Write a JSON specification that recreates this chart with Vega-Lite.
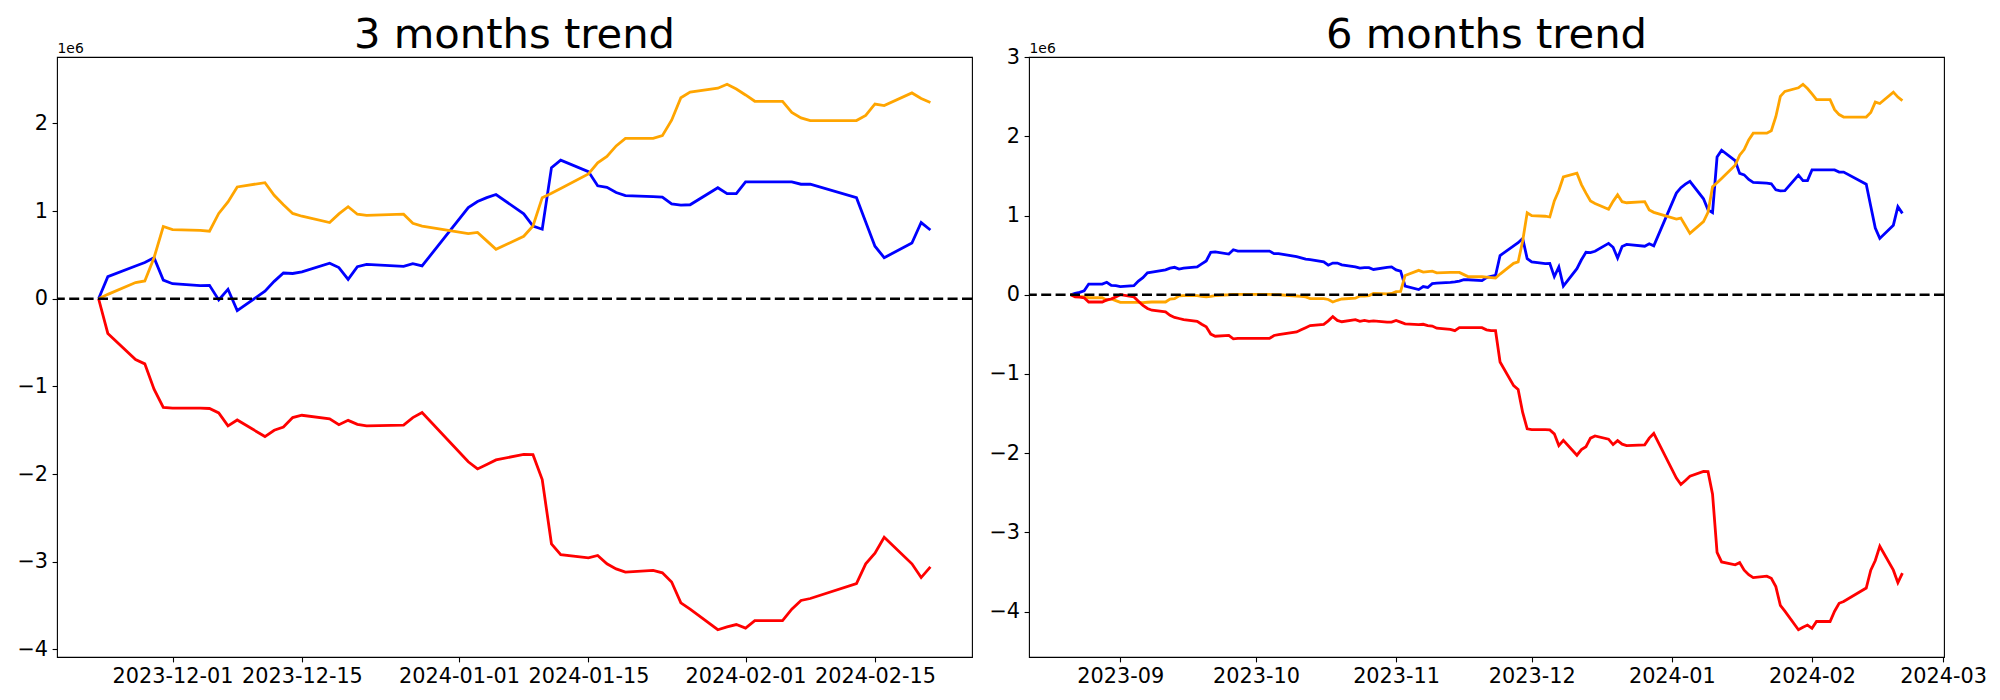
{
"$schema": "https://vega.github.io/schema/vega-lite/v6.json",
"background": "white",
"padding": {"left": 16, "top": 14, "right": 5, "bottom": 5},
"bounds": "flush",
"spacing": 57,
"config": {
  "font": "DejaVu Sans",
  "view": {"stroke": "black", "strokeWidth": 1.1},
  "axis": {"domain": false, "grid": false, "ticks": true, "tickColor": "black", "tickWidth": 1.1, "tickSize": 4.9, "labelFont": "DejaVu Sans", "labelFontSize": 20.8, "labelColor": "black", "labelPadding": 4.5, "labelFlush": false, "titleFont": "DejaVu Sans", "titleFontWeight": "normal", "titleColor": "black"},
  "title": {"font": "DejaVu Sans", "fontSize": 41.7, "fontWeight": "normal", "color": "black", "anchor": "middle", "frame": "group"}
},
"datasets": {
"m3": [
{"date":"2023-11-23","series":"blue","value":0},{"date":"2023-11-23","series":"orange","value":0},{"date":"2023-11-23","series":"red","value":0},
{"date":"2023-11-24","series":"blue","value":252000},{"date":"2023-11-24","series":"orange","value":50000},{"date":"2023-11-24","series":"red","value":-396000},
{"date":"2023-11-27","series":"blue","value":374000},{"date":"2023-11-27","series":"orange","value":185000},{"date":"2023-11-27","series":"red","value":-694000},
{"date":"2023-11-28","series":"blue","value":414000},{"date":"2023-11-28","series":"orange","value":203000},{"date":"2023-11-28","series":"red","value":-743000},
{"date":"2023-11-29","series":"blue","value":468000},{"date":"2023-11-29","series":"orange","value":468000},{"date":"2023-11-29","series":"red","value":-1032000},
{"date":"2023-11-30","series":"blue","value":212000},{"date":"2023-11-30","series":"orange","value":824000},{"date":"2023-11-30","series":"red","value":-1239000},
{"date":"2023-12-01","series":"blue","value":171000},{"date":"2023-12-01","series":"orange","value":788000},{"date":"2023-12-01","series":"red","value":-1248000},
{"date":"2023-12-04","series":"blue","value":149000},{"date":"2023-12-04","series":"orange","value":780000},{"date":"2023-12-04","series":"red","value":-1248000},
{"date":"2023-12-05","series":"blue","value":153000},{"date":"2023-12-05","series":"orange","value":770000},{"date":"2023-12-05","series":"red","value":-1252000},
{"date":"2023-12-06","series":"blue","value":-14000},{"date":"2023-12-06","series":"orange","value":973000},{"date":"2023-12-06","series":"red","value":-1302000},
{"date":"2023-12-07","series":"blue","value":108000},{"date":"2023-12-07","series":"orange","value":1104000},{"date":"2023-12-07","series":"red","value":-1450000},
{"date":"2023-12-08","series":"blue","value":-135000},{"date":"2023-12-08","series":"orange","value":1275000},{"date":"2023-12-08","series":"red","value":-1383000},
{"date":"2023-12-11","series":"blue","value":86000},{"date":"2023-12-11","series":"orange","value":1324000},{"date":"2023-12-11","series":"red","value":-1572000},
{"date":"2023-12-12","series":"blue","value":198000},{"date":"2023-12-12","series":"orange","value":1180000},{"date":"2023-12-12","series":"red","value":-1500000},
{"date":"2023-12-13","series":"blue","value":293000},{"date":"2023-12-13","series":"orange","value":1072000},{"date":"2023-12-13","series":"red","value":-1464000},
{"date":"2023-12-14","series":"blue","value":288000},{"date":"2023-12-14","series":"orange","value":973000},{"date":"2023-12-14","series":"red","value":-1356000},
{"date":"2023-12-15","series":"blue","value":306000},{"date":"2023-12-15","series":"orange","value":941000},{"date":"2023-12-15","series":"red","value":-1329000},
{"date":"2023-12-18","series":"blue","value":405000},{"date":"2023-12-18","series":"orange","value":869000},{"date":"2023-12-18","series":"red","value":-1369000},
{"date":"2023-12-19","series":"blue","value":356000},{"date":"2023-12-19","series":"orange","value":968000},{"date":"2023-12-19","series":"red","value":-1437000},
{"date":"2023-12-20","series":"blue","value":221000},{"date":"2023-12-20","series":"orange","value":1050000},{"date":"2023-12-20","series":"red","value":-1387000},
{"date":"2023-12-21","series":"blue","value":365000},{"date":"2023-12-21","series":"orange","value":964000},{"date":"2023-12-21","series":"red","value":-1432000},
{"date":"2023-12-22","series":"blue","value":392000},{"date":"2023-12-22","series":"orange","value":950000},{"date":"2023-12-22","series":"red","value":-1450000},
{"date":"2023-12-26","series":"blue","value":369000},{"date":"2023-12-26","series":"orange","value":964000},{"date":"2023-12-26","series":"red","value":-1441000},
{"date":"2023-12-27","series":"blue","value":400000},{"date":"2023-12-27","series":"orange","value":860000},{"date":"2023-12-27","series":"red","value":-1356000},
{"date":"2023-12-28","series":"blue","value":374000},{"date":"2023-12-28","series":"orange","value":829000},{"date":"2023-12-28","series":"red","value":-1297000},
{"date":"2024-01-02","series":"blue","value":1040000},{"date":"2024-01-02","series":"orange","value":743000},{"date":"2024-01-02","series":"red","value":-1860000},
{"date":"2024-01-03","series":"blue","value":1108000},{"date":"2024-01-03","series":"orange","value":757000},{"date":"2024-01-03","series":"red","value":-1941000},
{"date":"2024-01-04","series":"blue","value":1153000},{"date":"2024-01-04","series":"orange","value":660000},{"date":"2024-01-04","series":"red","value":-1890000},
{"date":"2024-01-05","series":"blue","value":1189000},{"date":"2024-01-05","series":"orange","value":563000},{"date":"2024-01-05","series":"red","value":-1838000},
{"date":"2024-01-08","series":"blue","value":968000},{"date":"2024-01-08","series":"orange","value":712000},{"date":"2024-01-08","series":"red","value":-1775000},
{"date":"2024-01-09","series":"blue","value":829000},{"date":"2024-01-09","series":"orange","value":829000},{"date":"2024-01-09","series":"red","value":-1779000},
{"date":"2024-01-10","series":"blue","value":793000},{"date":"2024-01-10","series":"orange","value":1153000},{"date":"2024-01-10","series":"red","value":-2063000},
{"date":"2024-01-11","series":"blue","value":1495000},{"date":"2024-01-11","series":"orange","value":1203000},{"date":"2024-01-11","series":"red","value":-2797000},
{"date":"2024-01-12","series":"blue","value":1581000},{"date":"2024-01-12","series":"orange","value":1257000},{"date":"2024-01-12","series":"red","value":-2919000},
{"date":"2024-01-15","series":"blue","value":1450000},{"date":"2024-01-15","series":"orange","value":1423000},{"date":"2024-01-15","series":"red","value":-2955000},
{"date":"2024-01-16","series":"blue","value":1288000},{"date":"2024-01-16","series":"orange","value":1550000},{"date":"2024-01-16","series":"red","value":-2928000},
{"date":"2024-01-17","series":"blue","value":1270000},{"date":"2024-01-17","series":"orange","value":1622000},{"date":"2024-01-17","series":"red","value":-3023000},
{"date":"2024-01-18","series":"blue","value":1212000},{"date":"2024-01-18","series":"orange","value":1743000},{"date":"2024-01-18","series":"red","value":-3081000},
{"date":"2024-01-19","series":"blue","value":1176000},{"date":"2024-01-19","series":"orange","value":1829000},{"date":"2024-01-19","series":"red","value":-3117000},
{"date":"2024-01-22","series":"blue","value":1165000},{"date":"2024-01-22","series":"orange","value":1829000},{"date":"2024-01-22","series":"red","value":-3099000},
{"date":"2024-01-23","series":"blue","value":1158000},{"date":"2024-01-23","series":"orange","value":1860000},{"date":"2024-01-23","series":"red","value":-3126000},
{"date":"2024-01-24","series":"blue","value":1081000},{"date":"2024-01-24","series":"orange","value":2036000},{"date":"2024-01-24","series":"red","value":-3230000},
{"date":"2024-01-25","series":"blue","value":1068000},{"date":"2024-01-25","series":"orange","value":2293000},{"date":"2024-01-25","series":"red","value":-3468000},
{"date":"2024-01-26","series":"blue","value":1072000},{"date":"2024-01-26","series":"orange","value":2356000},{"date":"2024-01-26","series":"red","value":-3541000},
{"date":"2024-01-29","series":"blue","value":1266000},{"date":"2024-01-29","series":"orange","value":2401000},{"date":"2024-01-29","series":"red","value":-3775000},
{"date":"2024-01-30","series":"blue","value":1198000},{"date":"2024-01-30","series":"orange","value":2446000},{"date":"2024-01-30","series":"red","value":-3743000},
{"date":"2024-01-31","series":"blue","value":1198000},{"date":"2024-01-31","series":"orange","value":2392000},{"date":"2024-01-31","series":"red","value":-3716000},
{"date":"2024-02-01","series":"blue","value":1333000},{"date":"2024-02-01","series":"orange","value":2324000},{"date":"2024-02-01","series":"red","value":-3757000},
{"date":"2024-02-02","series":"blue","value":1333000},{"date":"2024-02-02","series":"orange","value":2252000},{"date":"2024-02-02","series":"red","value":-3671000},
{"date":"2024-02-05","series":"blue","value":1333000},{"date":"2024-02-05","series":"orange","value":2252000},{"date":"2024-02-05","series":"red","value":-3671000},
{"date":"2024-02-06","series":"blue","value":1333000},{"date":"2024-02-06","series":"orange","value":2126000},{"date":"2024-02-06","series":"red","value":-3541000},
{"date":"2024-02-07","series":"blue","value":1306000},{"date":"2024-02-07","series":"orange","value":2063000},{"date":"2024-02-07","series":"red","value":-3441000},
{"date":"2024-02-08","series":"blue","value":1306000},{"date":"2024-02-08","series":"orange","value":2032000},{"date":"2024-02-08","series":"red","value":-3419000},
{"date":"2024-02-13","series":"blue","value":1153000},{"date":"2024-02-13","series":"orange","value":2032000},{"date":"2024-02-13","series":"red","value":-3248000},
{"date":"2024-02-14","series":"blue","value":874000},{"date":"2024-02-14","series":"orange","value":2090000},{"date":"2024-02-14","series":"red","value":-3023000},
{"date":"2024-02-15","series":"blue","value":599000},{"date":"2024-02-15","series":"orange","value":2221000},{"date":"2024-02-15","series":"red","value":-2901000},
{"date":"2024-02-16","series":"blue","value":468000},{"date":"2024-02-16","series":"orange","value":2203000},{"date":"2024-02-16","series":"red","value":-2721000},
{"date":"2024-02-19","series":"blue","value":635000},{"date":"2024-02-19","series":"orange","value":2347000},{"date":"2024-02-19","series":"red","value":-3023000},
{"date":"2024-02-20","series":"blue","value":869000},{"date":"2024-02-20","series":"orange","value":2284000},{"date":"2024-02-20","series":"red","value":-3180000},
{"date":"2024-02-21","series":"blue","value":784000},{"date":"2024-02-21","series":"orange","value":2239000},{"date":"2024-02-21","series":"red","value":-3059000}
],
"m6": [
{"date":"2023-08-21","series":"blue","value":0},{"date":"2023-08-21","series":"orange","value":0},{"date":"2023-08-21","series":"red","value":0},
{"date":"2023-08-22","series":"blue","value":16000},{"date":"2023-08-22","series":"orange","value":-10000},{"date":"2023-08-22","series":"red","value":-27000},
{"date":"2023-08-23","series":"blue","value":30000},{"date":"2023-08-23","series":"orange","value":-20000},{"date":"2023-08-23","series":"red","value":-30000},
{"date":"2023-08-24","series":"blue","value":49000},{"date":"2023-08-24","series":"orange","value":-27000},{"date":"2023-08-24","series":"red","value":-38000},
{"date":"2023-08-25","series":"blue","value":135000},{"date":"2023-08-25","series":"orange","value":-38000},{"date":"2023-08-25","series":"red","value":-92000},
{"date":"2023-08-28","series":"blue","value":135000},{"date":"2023-08-28","series":"orange","value":-38000},{"date":"2023-08-28","series":"red","value":-92000},
{"date":"2023-08-29","series":"blue","value":157000},{"date":"2023-08-29","series":"orange","value":-70000},{"date":"2023-08-29","series":"red","value":-65000},
{"date":"2023-08-30","series":"blue","value":119000},{"date":"2023-08-30","series":"orange","value":-54000},{"date":"2023-08-30","series":"red","value":-54000},
{"date":"2023-08-31","series":"blue","value":114000},{"date":"2023-08-31","series":"orange","value":-75000},{"date":"2023-08-31","series":"red","value":-27000},
{"date":"2023-09-01","series":"blue","value":103000},{"date":"2023-09-01","series":"orange","value":-97000},{"date":"2023-09-01","series":"red","value":0},
{"date":"2023-09-04","series":"blue","value":114000},{"date":"2023-09-04","series":"orange","value":-97000},{"date":"2023-09-04","series":"red","value":-27000},
{"date":"2023-09-05","series":"blue","value":173000},{"date":"2023-09-05","series":"orange","value":-97000},{"date":"2023-09-05","series":"red","value":-81000},
{"date":"2023-09-06","series":"blue","value":216000},{"date":"2023-09-06","series":"orange","value":-100000},{"date":"2023-09-06","series":"red","value":-135000},
{"date":"2023-09-07","series":"blue","value":276000},{"date":"2023-09-07","series":"orange","value":-95000},{"date":"2023-09-07","series":"red","value":-173000},
{"date":"2023-09-08","series":"blue","value":286000},{"date":"2023-09-08","series":"orange","value":-92000},{"date":"2023-09-08","series":"red","value":-195000},
{"date":"2023-09-11","series":"blue","value":314000},{"date":"2023-09-11","series":"orange","value":-92000},{"date":"2023-09-11","series":"red","value":-216000},
{"date":"2023-09-12","series":"blue","value":335000},{"date":"2023-09-12","series":"orange","value":-55000},{"date":"2023-09-12","series":"red","value":-259000},
{"date":"2023-09-13","series":"blue","value":346000},{"date":"2023-09-13","series":"orange","value":-50000},{"date":"2023-09-13","series":"red","value":-286000},
{"date":"2023-09-14","series":"blue","value":324000},{"date":"2023-09-14","series":"orange","value":-15000},{"date":"2023-09-14","series":"red","value":-300000},
{"date":"2023-09-15","series":"blue","value":335000},{"date":"2023-09-15","series":"orange","value":-10000},{"date":"2023-09-15","series":"red","value":-314000},
{"date":"2023-09-18","series":"blue","value":351000},{"date":"2023-09-18","series":"orange","value":-10000},{"date":"2023-09-18","series":"red","value":-335000},
{"date":"2023-09-19","series":"blue","value":389000},{"date":"2023-09-19","series":"orange","value":-20000},{"date":"2023-09-19","series":"red","value":-373000},
{"date":"2023-09-20","series":"blue","value":427000},{"date":"2023-09-20","series":"orange","value":-27000},{"date":"2023-09-20","series":"red","value":-405000},
{"date":"2023-09-21","series":"blue","value":535000},{"date":"2023-09-21","series":"orange","value":-20000},{"date":"2023-09-21","series":"red","value":-497000},
{"date":"2023-09-22","series":"blue","value":541000},{"date":"2023-09-22","series":"orange","value":-10000},{"date":"2023-09-22","series":"red","value":-524000},
{"date":"2023-09-25","series":"blue","value":514000},{"date":"2023-09-25","series":"orange","value":0},{"date":"2023-09-25","series":"red","value":-514000},
{"date":"2023-09-26","series":"blue","value":568000},{"date":"2023-09-26","series":"orange","value":5000},{"date":"2023-09-26","series":"red","value":-557000},
{"date":"2023-09-27","series":"blue","value":551000},{"date":"2023-09-27","series":"orange","value":5000},{"date":"2023-09-27","series":"red","value":-551000},
{"date":"2023-10-04","series":"blue","value":551000},{"date":"2023-10-04","series":"orange","value":5000},{"date":"2023-10-04","series":"red","value":-551000},
{"date":"2023-10-05","series":"blue","value":519000},{"date":"2023-10-05","series":"orange","value":0},{"date":"2023-10-05","series":"red","value":-514000},
{"date":"2023-10-06","series":"blue","value":519000},{"date":"2023-10-06","series":"orange","value":0},{"date":"2023-10-06","series":"red","value":-503000},
{"date":"2023-10-10","series":"blue","value":481000},{"date":"2023-10-10","series":"orange","value":-16000},{"date":"2023-10-10","series":"red","value":-470000},
{"date":"2023-10-11","series":"blue","value":465000},{"date":"2023-10-11","series":"orange","value":-20000},{"date":"2023-10-11","series":"red","value":-443000},
{"date":"2023-10-12","series":"blue","value":449000},{"date":"2023-10-12","series":"orange","value":-27000},{"date":"2023-10-12","series":"red","value":-416000},
{"date":"2023-10-13","series":"blue","value":443000},{"date":"2023-10-13","series":"orange","value":-49000},{"date":"2023-10-13","series":"red","value":-389000},
{"date":"2023-10-16","series":"blue","value":416000},{"date":"2023-10-16","series":"orange","value":-49000},{"date":"2023-10-16","series":"red","value":-373000},
{"date":"2023-10-17","series":"blue","value":373000},{"date":"2023-10-17","series":"orange","value":-60000},{"date":"2023-10-17","series":"red","value":-330000},
{"date":"2023-10-18","series":"blue","value":400000},{"date":"2023-10-18","series":"orange","value":-92000},{"date":"2023-10-18","series":"red","value":-276000},
{"date":"2023-10-19","series":"blue","value":400000},{"date":"2023-10-19","series":"orange","value":-70000},{"date":"2023-10-19","series":"red","value":-324000},
{"date":"2023-10-20","series":"blue","value":378000},{"date":"2023-10-20","series":"orange","value":-54000},{"date":"2023-10-20","series":"red","value":-341000},
{"date":"2023-10-23","series":"blue","value":351000},{"date":"2023-10-23","series":"orange","value":-43000},{"date":"2023-10-23","series":"red","value":-314000},
{"date":"2023-10-24","series":"blue","value":335000},{"date":"2023-10-24","series":"orange","value":-16000},{"date":"2023-10-24","series":"red","value":-335000},
{"date":"2023-10-25","series":"blue","value":341000},{"date":"2023-10-25","series":"orange","value":-16000},{"date":"2023-10-25","series":"red","value":-324000},
{"date":"2023-10-26","series":"blue","value":341000},{"date":"2023-10-26","series":"orange","value":-11000},{"date":"2023-10-26","series":"red","value":-335000},
{"date":"2023-10-27","series":"blue","value":319000},{"date":"2023-10-27","series":"orange","value":16000},{"date":"2023-10-27","series":"red","value":-330000},
{"date":"2023-10-30","series":"blue","value":346000},{"date":"2023-10-30","series":"orange","value":11000},{"date":"2023-10-30","series":"red","value":-346000},
{"date":"2023-10-31","series":"blue","value":351000},{"date":"2023-10-31","series":"orange","value":16000},{"date":"2023-10-31","series":"red","value":-346000},
{"date":"2023-11-01","series":"blue","value":314000},{"date":"2023-11-01","series":"orange","value":38000},{"date":"2023-11-01","series":"red","value":-324000},
{"date":"2023-11-02","series":"blue","value":297000},{"date":"2023-11-02","series":"orange","value":43000},{"date":"2023-11-02","series":"red","value":-346000},
{"date":"2023-11-03","series":"blue","value":108000},{"date":"2023-11-03","series":"orange","value":243000},{"date":"2023-11-03","series":"red","value":-368000},
{"date":"2023-11-06","series":"blue","value":65000},{"date":"2023-11-06","series":"orange","value":308000},{"date":"2023-11-06","series":"red","value":-378000},
{"date":"2023-11-07","series":"blue","value":103000},{"date":"2023-11-07","series":"orange","value":286000},{"date":"2023-11-07","series":"red","value":-373000},
{"date":"2023-11-08","series":"blue","value":92000},{"date":"2023-11-08","series":"orange","value":292000},{"date":"2023-11-08","series":"red","value":-389000},
{"date":"2023-11-09","series":"blue","value":141000},{"date":"2023-11-09","series":"orange","value":297000},{"date":"2023-11-09","series":"red","value":-395000},
{"date":"2023-11-10","series":"blue","value":146000},{"date":"2023-11-10","series":"orange","value":276000},{"date":"2023-11-10","series":"red","value":-422000},
{"date":"2023-11-13","series":"blue","value":157000},{"date":"2023-11-13","series":"orange","value":281000},{"date":"2023-11-13","series":"red","value":-438000},
{"date":"2023-11-14","series":"blue","value":162000},{"date":"2023-11-14","series":"orange","value":281000},{"date":"2023-11-14","series":"red","value":-454000},
{"date":"2023-11-15","series":"blue","value":173000},{"date":"2023-11-15","series":"orange","value":281000},{"date":"2023-11-15","series":"red","value":-416000},
{"date":"2023-11-16","series":"blue","value":189000},{"date":"2023-11-16","series":"orange","value":254000},{"date":"2023-11-16","series":"red","value":-416000},
{"date":"2023-11-17","series":"blue","value":189000},{"date":"2023-11-17","series":"orange","value":227000},{"date":"2023-11-17","series":"red","value":-416000},
{"date":"2023-11-20","series":"blue","value":178000},{"date":"2023-11-20","series":"orange","value":227000},{"date":"2023-11-20","series":"red","value":-416000},
{"date":"2023-11-21","series":"blue","value":216000},{"date":"2023-11-21","series":"orange","value":222000},{"date":"2023-11-21","series":"red","value":-443000},
{"date":"2023-11-22","series":"blue","value":232000},{"date":"2023-11-22","series":"orange","value":216000},{"date":"2023-11-22","series":"red","value":-454000},
{"date":"2023-11-23","series":"blue","value":243000},{"date":"2023-11-23","series":"orange","value":211000},{"date":"2023-11-23","series":"red","value":-454000},
{"date":"2023-11-24","series":"blue","value":495000},{"date":"2023-11-24","series":"orange","value":261000},{"date":"2023-11-24","series":"red","value":-850000},
{"date":"2023-11-27","series":"blue","value":617000},{"date":"2023-11-27","series":"orange","value":396000},{"date":"2023-11-27","series":"red","value":-1148000},
{"date":"2023-11-28","series":"blue","value":657000},{"date":"2023-11-28","series":"orange","value":414000},{"date":"2023-11-28","series":"red","value":-1197000},
{"date":"2023-11-29","series":"blue","value":711000},{"date":"2023-11-29","series":"orange","value":679000},{"date":"2023-11-29","series":"red","value":-1486000},
{"date":"2023-11-30","series":"blue","value":455000},{"date":"2023-11-30","series":"orange","value":1035000},{"date":"2023-11-30","series":"red","value":-1693000},
{"date":"2023-12-01","series":"blue","value":414000},{"date":"2023-12-01","series":"orange","value":999000},{"date":"2023-12-01","series":"red","value":-1702000},
{"date":"2023-12-04","series":"blue","value":392000},{"date":"2023-12-04","series":"orange","value":991000},{"date":"2023-12-04","series":"red","value":-1702000},
{"date":"2023-12-05","series":"blue","value":396000},{"date":"2023-12-05","series":"orange","value":981000},{"date":"2023-12-05","series":"red","value":-1706000},
{"date":"2023-12-06","series":"blue","value":229000},{"date":"2023-12-06","series":"orange","value":1184000},{"date":"2023-12-06","series":"red","value":-1756000},
{"date":"2023-12-07","series":"blue","value":351000},{"date":"2023-12-07","series":"orange","value":1315000},{"date":"2023-12-07","series":"red","value":-1904000},
{"date":"2023-12-08","series":"blue","value":108000},{"date":"2023-12-08","series":"orange","value":1486000},{"date":"2023-12-08","series":"red","value":-1837000},
{"date":"2023-12-11","series":"blue","value":329000},{"date":"2023-12-11","series":"orange","value":1535000},{"date":"2023-12-11","series":"red","value":-2026000},
{"date":"2023-12-12","series":"blue","value":441000},{"date":"2023-12-12","series":"orange","value":1391000},{"date":"2023-12-12","series":"red","value":-1954000},
{"date":"2023-12-13","series":"blue","value":536000},{"date":"2023-12-13","series":"orange","value":1283000},{"date":"2023-12-13","series":"red","value":-1918000},
{"date":"2023-12-14","series":"blue","value":531000},{"date":"2023-12-14","series":"orange","value":1184000},{"date":"2023-12-14","series":"red","value":-1810000},
{"date":"2023-12-15","series":"blue","value":549000},{"date":"2023-12-15","series":"orange","value":1152000},{"date":"2023-12-15","series":"red","value":-1783000},
{"date":"2023-12-18","series":"blue","value":648000},{"date":"2023-12-18","series":"orange","value":1080000},{"date":"2023-12-18","series":"red","value":-1823000},
{"date":"2023-12-19","series":"blue","value":599000},{"date":"2023-12-19","series":"orange","value":1179000},{"date":"2023-12-19","series":"red","value":-1891000},
{"date":"2023-12-20","series":"blue","value":464000},{"date":"2023-12-20","series":"orange","value":1261000},{"date":"2023-12-20","series":"red","value":-1841000},
{"date":"2023-12-21","series":"blue","value":608000},{"date":"2023-12-21","series":"orange","value":1175000},{"date":"2023-12-21","series":"red","value":-1886000},
{"date":"2023-12-22","series":"blue","value":635000},{"date":"2023-12-22","series":"orange","value":1161000},{"date":"2023-12-22","series":"red","value":-1904000},
{"date":"2023-12-26","series":"blue","value":612000},{"date":"2023-12-26","series":"orange","value":1175000},{"date":"2023-12-26","series":"red","value":-1895000},
{"date":"2023-12-27","series":"blue","value":643000},{"date":"2023-12-27","series":"orange","value":1071000},{"date":"2023-12-27","series":"red","value":-1810000},
{"date":"2023-12-28","series":"blue","value":617000},{"date":"2023-12-28","series":"orange","value":1040000},{"date":"2023-12-28","series":"red","value":-1751000},
{"date":"2024-01-02","series":"blue","value":1283000},{"date":"2024-01-02","series":"orange","value":954000},{"date":"2024-01-02","series":"red","value":-2314000},
{"date":"2024-01-03","series":"blue","value":1351000},{"date":"2024-01-03","series":"orange","value":968000},{"date":"2024-01-03","series":"red","value":-2395000},
{"date":"2024-01-04","series":"blue","value":1396000},{"date":"2024-01-04","series":"orange","value":871000},{"date":"2024-01-04","series":"red","value":-2344000},
{"date":"2024-01-05","series":"blue","value":1432000},{"date":"2024-01-05","series":"orange","value":774000},{"date":"2024-01-05","series":"red","value":-2292000},
{"date":"2024-01-08","series":"blue","value":1211000},{"date":"2024-01-08","series":"orange","value":923000},{"date":"2024-01-08","series":"red","value":-2229000},
{"date":"2024-01-09","series":"blue","value":1072000},{"date":"2024-01-09","series":"orange","value":1040000},{"date":"2024-01-09","series":"red","value":-2233000},
{"date":"2024-01-10","series":"blue","value":1036000},{"date":"2024-01-10","series":"orange","value":1364000},{"date":"2024-01-10","series":"red","value":-2517000},
{"date":"2024-01-11","series":"blue","value":1738000},{"date":"2024-01-11","series":"orange","value":1414000},{"date":"2024-01-11","series":"red","value":-3251000},
{"date":"2024-01-12","series":"blue","value":1824000},{"date":"2024-01-12","series":"orange","value":1468000},{"date":"2024-01-12","series":"red","value":-3373000},
{"date":"2024-01-15","series":"blue","value":1693000},{"date":"2024-01-15","series":"orange","value":1634000},{"date":"2024-01-15","series":"red","value":-3409000},
{"date":"2024-01-16","series":"blue","value":1531000},{"date":"2024-01-16","series":"orange","value":1761000},{"date":"2024-01-16","series":"red","value":-3382000},
{"date":"2024-01-17","series":"blue","value":1513000},{"date":"2024-01-17","series":"orange","value":1833000},{"date":"2024-01-17","series":"red","value":-3477000},
{"date":"2024-01-18","series":"blue","value":1455000},{"date":"2024-01-18","series":"orange","value":1954000},{"date":"2024-01-18","series":"red","value":-3535000},
{"date":"2024-01-19","series":"blue","value":1419000},{"date":"2024-01-19","series":"orange","value":2040000},{"date":"2024-01-19","series":"red","value":-3571000},
{"date":"2024-01-22","series":"blue","value":1408000},{"date":"2024-01-22","series":"orange","value":2040000},{"date":"2024-01-22","series":"red","value":-3553000},
{"date":"2024-01-23","series":"blue","value":1401000},{"date":"2024-01-23","series":"orange","value":2071000},{"date":"2024-01-23","series":"red","value":-3580000},
{"date":"2024-01-24","series":"blue","value":1324000},{"date":"2024-01-24","series":"orange","value":2247000},{"date":"2024-01-24","series":"red","value":-3684000},
{"date":"2024-01-25","series":"blue","value":1311000},{"date":"2024-01-25","series":"orange","value":2504000},{"date":"2024-01-25","series":"red","value":-3922000},
{"date":"2024-01-26","series":"blue","value":1315000},{"date":"2024-01-26","series":"orange","value":2567000},{"date":"2024-01-26","series":"red","value":-3995000},
{"date":"2024-01-29","series":"blue","value":1509000},{"date":"2024-01-29","series":"orange","value":2612000},{"date":"2024-01-29","series":"red","value":-4229000},
{"date":"2024-01-30","series":"blue","value":1441000},{"date":"2024-01-30","series":"orange","value":2657000},{"date":"2024-01-30","series":"red","value":-4197000},
{"date":"2024-01-31","series":"blue","value":1441000},{"date":"2024-01-31","series":"orange","value":2603000},{"date":"2024-01-31","series":"red","value":-4170000},
{"date":"2024-02-01","series":"blue","value":1576000},{"date":"2024-02-01","series":"orange","value":2535000},{"date":"2024-02-01","series":"red","value":-4211000},
{"date":"2024-02-02","series":"blue","value":1576000},{"date":"2024-02-02","series":"orange","value":2463000},{"date":"2024-02-02","series":"red","value":-4125000},
{"date":"2024-02-05","series":"blue","value":1576000},{"date":"2024-02-05","series":"orange","value":2463000},{"date":"2024-02-05","series":"red","value":-4125000},
{"date":"2024-02-06","series":"blue","value":1576000},{"date":"2024-02-06","series":"orange","value":2337000},{"date":"2024-02-06","series":"red","value":-3995000},
{"date":"2024-02-07","series":"blue","value":1549000},{"date":"2024-02-07","series":"orange","value":2274000},{"date":"2024-02-07","series":"red","value":-3895000},
{"date":"2024-02-08","series":"blue","value":1549000},{"date":"2024-02-08","series":"orange","value":2243000},{"date":"2024-02-08","series":"red","value":-3873000},
{"date":"2024-02-13","series":"blue","value":1396000},{"date":"2024-02-13","series":"orange","value":2243000},{"date":"2024-02-13","series":"red","value":-3702000},
{"date":"2024-02-14","series":"blue","value":1117000},{"date":"2024-02-14","series":"orange","value":2301000},{"date":"2024-02-14","series":"red","value":-3477000},
{"date":"2024-02-15","series":"blue","value":842000},{"date":"2024-02-15","series":"orange","value":2432000},{"date":"2024-02-15","series":"red","value":-3355000},
{"date":"2024-02-16","series":"blue","value":711000},{"date":"2024-02-16","series":"orange","value":2414000},{"date":"2024-02-16","series":"red","value":-3175000},
{"date":"2024-02-19","series":"blue","value":878000},{"date":"2024-02-19","series":"orange","value":2558000},{"date":"2024-02-19","series":"red","value":-3477000},
{"date":"2024-02-20","series":"blue","value":1112000},{"date":"2024-02-20","series":"orange","value":2495000},{"date":"2024-02-20","series":"red","value":-3634000},
{"date":"2024-02-21","series":"blue","value":1027000},{"date":"2024-02-21","series":"orange","value":2450000},{"date":"2024-02-21","series":"red","value":-3513000}
]
},
"hconcat": [
{
  "title": {"text": "3 months trend", "offset": -16},
  "width": 915, "height": 600,
  "layer": [
    {
      "data": {"name": "m3"},
      "mark": {"type": "line", "strokeWidth": 2.8},
      "encoding": {
        "x": {"field": "date", "type": "temporal",
              "scale": {"type": "utc", "domain": [{"year": 2023, "month": 11, "date": 18, "hours": 12, "utc": true}, {"year": 2024, "month": 2, "date": 25, "hours": 12, "utc": true}]},
              "axis": {"title": null, "labelAngle": 0, "labelFlush": false, "labelExpr": "utcFormat(datum.value, '%Y-%m-%d')",
                       "values": [{"year": 2023, "month": 12, "date": 1, "utc": true}, {"year": 2023, "month": 12, "date": 15, "utc": true}, {"year": 2024, "month": 1, "date": 1, "utc": true}, {"year": 2024, "month": 1, "date": 15, "utc": true}, {"year": 2024, "month": 2, "date": 1, "utc": true}, {"year": 2024, "month": 2, "date": 15, "utc": true}]}},
        "y": {"field": "value", "type": "quantitative",
              "scale": {"domain": [-4086000, 2757000], "nice": false, "zero": false},
              "axis": {"title": "1e6", "titleAngle": 0, "titleX": 0, "titleY": -5, "titleAlign": "left", "titleBaseline": "alphabetic", "titleFontSize": 13.9,
                       "values": [-4000000, -3000000, -2000000, -1000000, 0, 1000000, 2000000],
                       "labelExpr": "datum.value < 0 ? '\u2212' + format(-datum.value / 1000000, 'd') : format(datum.value / 1000000, 'd')"}},
        "color": {"field": "series", "type": "nominal", "scale": {"domain": ["blue", "orange", "red"], "range": ["#0000ff", "#ffa500", "#ff0000"]}, "legend": null}
      }
    },
    {
      "data": {"values": [{"value": 0}]},
      "mark": {"type": "rule", "color": "black", "strokeWidth": 2.6, "strokeDash": [10, 4.4]},
      "encoding": {"y": {"field": "value", "type": "quantitative"}}
    }
  ]
},
{
  "title": {"text": "6 months trend", "offset": -16},
  "width": 915, "height": 600,
  "layer": [
    {
      "data": {"name": "m6"},
      "mark": {"type": "line", "strokeWidth": 2.8},
      "encoding": {
        "x": {"field": "date", "type": "temporal",
              "scale": {"type": "utc", "domain": [{"year": 2023, "month": 8, "date": 11, "hours": 19, "minutes": 12, "utc": true}, {"year": 2024, "month": 3, "date": 1, "hours": 4, "minutes": 48, "utc": true}]},
              "axis": {"title": null, "labelAngle": 0, "labelFlush": false, "labelExpr": "utcFormat(datum.value, '%Y-%m')",
                       "values": [{"year": 2023, "month": 9, "date": 1, "utc": true}, {"year": 2023, "month": 10, "date": 1, "utc": true}, {"year": 2023, "month": 11, "date": 1, "utc": true}, {"year": 2023, "month": 12, "date": 1, "utc": true}, {"year": 2024, "month": 1, "date": 1, "utc": true}, {"year": 2024, "month": 2, "date": 1, "utc": true}, {"year": 2024, "month": 3, "date": 1, "utc": true}]}},
        "y": {"field": "value", "type": "quantitative",
              "scale": {"domain": [-4573000, 3001000], "nice": false, "zero": false},
              "axis": {"title": "1e6", "titleAngle": 0, "titleX": 0, "titleY": -5, "titleAlign": "left", "titleBaseline": "alphabetic", "titleFontSize": 13.9,
                       "values": [-4000000, -3000000, -2000000, -1000000, 0, 1000000, 2000000, 3000000],
                       "labelExpr": "datum.value < 0 ? '\u2212' + format(-datum.value / 1000000, 'd') : format(datum.value / 1000000, 'd')"}},
        "color": {"field": "series", "type": "nominal", "scale": {"domain": ["blue", "orange", "red"], "range": ["#0000ff", "#ffa500", "#ff0000"]}, "legend": null}
      }
    },
    {
      "data": {"values": [{"value": 0}]},
      "mark": {"type": "rule", "color": "black", "strokeWidth": 2.6, "strokeDash": [10, 4.4]},
      "encoding": {"y": {"field": "value", "type": "quantitative"}}
    }
  ]
}
]
}
